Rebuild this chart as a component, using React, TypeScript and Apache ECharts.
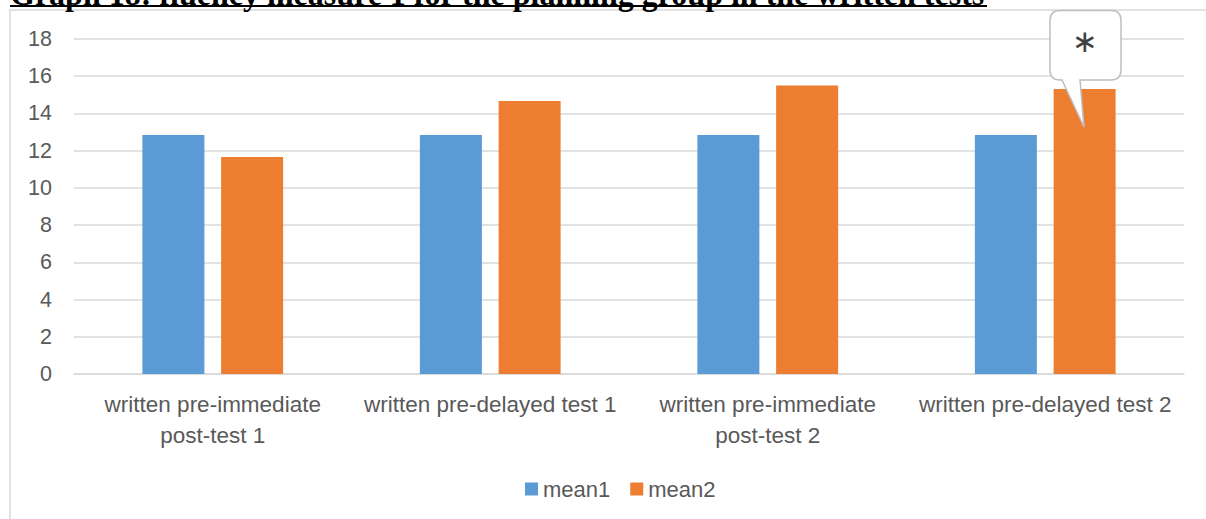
import React, { useEffect, useRef } from "react";
import * as echarts from "echarts";

const categories = [
  "written pre-immediate post-test 1",
  "written pre-delayed test 1",
  "written pre-immediate post-test 2",
  "written pre-delayed test 2",
];
const seriesNames = ["mean1", "mean2"];
const mean1 = [12.84, 12.84, 12.84, 12.84];
const mean2 = [11.66, 14.67, 15.5, 15.31];
const yMin = 0;
const yMax = 18;
const yInterval = 2;
const titleText = "Graph 18: fluency measure 1 for the planning group in the written tests";
const calloutText = "\u2217";

const calloutD =
  "M10 0 H61 Q71 0 71 10 V59.5 Q71 69.5 61 69.5 H30 L34 116.5 L12 69.5 H10 Q0 69.5 0 59.5 V10 Q0 0 10 0 Z";
try {
  echarts.graphic.registerShape("callout", echarts.graphic.extendPath(calloutD, {}));
} catch (e) {}

const textColor = "#595959";
const gridColor = "#d9d9d9";

export default function App() {
  const ref = useRef<HTMLDivElement>(null);
  useEffect(() => {
    if (!ref.current) return;
    const chart = echarts.init(ref.current, null, { renderer: "svg" });
    chart.setOption({
      animation: false,
      backgroundColor: "#ffffff",
      grid: { left: 74, right: 22, top: 39, bottom: 145 },
      legend: {
        data: seriesNames,
        left: 520,
        top: 473,
        icon: "rect",
        itemWidth: 13,
        itemHeight: 13,
        itemGap: 20,
        textStyle: { color: textColor, fontSize: 22, fontFamily: "Liberation Sans" },
      },
      xAxis: {
        type: "category",
        data: categories,
        axisTick: { show: false },
        axisLine: { lineStyle: { color: gridColor, width: 1.5 } },
        axisLabel: {
          interval: 0,
          color: textColor,
          fontSize: 22.5,
          fontFamily: "Liberation Sans",
          lineHeight: 31,
          margin: 15,
          formatter: (v: string) => v.replace(" post-", "\npost-"),
        },
      },
      yAxis: {
        type: "value",
        min: yMin,
        max: yMax,
        interval: yInterval,
        axisLine: { show: false },
        axisTick: { show: false },
        splitLine: { lineStyle: { color: gridColor, width: 1.5 } },
        axisLabel: { color: textColor, fontSize: 21.5, fontFamily: "Liberation Sans", margin: 22 },
      },
      series: [
        {
          name: seriesNames[0],
          type: "bar",
          data: mean1,
          barWidth: 62,
          barGap: "27%",
          itemStyle: { color: "#5b9bd5" },
        },
        {
          name: seriesNames[1],
          type: "bar",
          data: mean2,
          barWidth: 62,
          barGap: "27%",
          itemStyle: { color: "#ed7d31" },
        },
      ],
      graphic: [
        {
          type: "rect",
          z: -10,
          shape: { x: 10, y: 10, width: 1300, height: 600 },
          style: { fill: "none", stroke: gridColor, lineWidth: 1.5 },
        },
        {
          type: "text",
          z: 50,
          x: 10,
          y: -6.5,
          style: {
            text: titleText,
            fill: "#000",
            fontSize: 32,
            fontWeight: "bold",
            fontFamily: "Liberation Serif",
            align: "left",
            verticalAlign: "middle",
          },
        },
        {
          type: "line",
          z: 50,
          shape: { x1: 10, y1: 6, x2: 987, y2: 6 },
          style: { stroke: "#000", lineWidth: 2 },
        },
        {
          type: "callout",
          z: 100,
          x: 1050,
          y: 10.5,
          style: { fill: "#ffffff", stroke: "#bfbfbf", lineWidth: 1.5 },
        },
        {
          type: "text",
          z: 101,
          x: 1085,
          y: 41,
          style: {
            text: calloutText,
            fill: "#404040",
            fontSize: 31,
            fontFamily: "DejaVu Sans",
            align: "center",
            verticalAlign: "middle",
          },
        },
      ],
    });
    return () => chart.dispose();
  }, []);
  return (
    <div
      ref={ref}
      style={{ position: "fixed", left: 0, top: 0, width: 1206, height: 519 }}
    />
  );
}
